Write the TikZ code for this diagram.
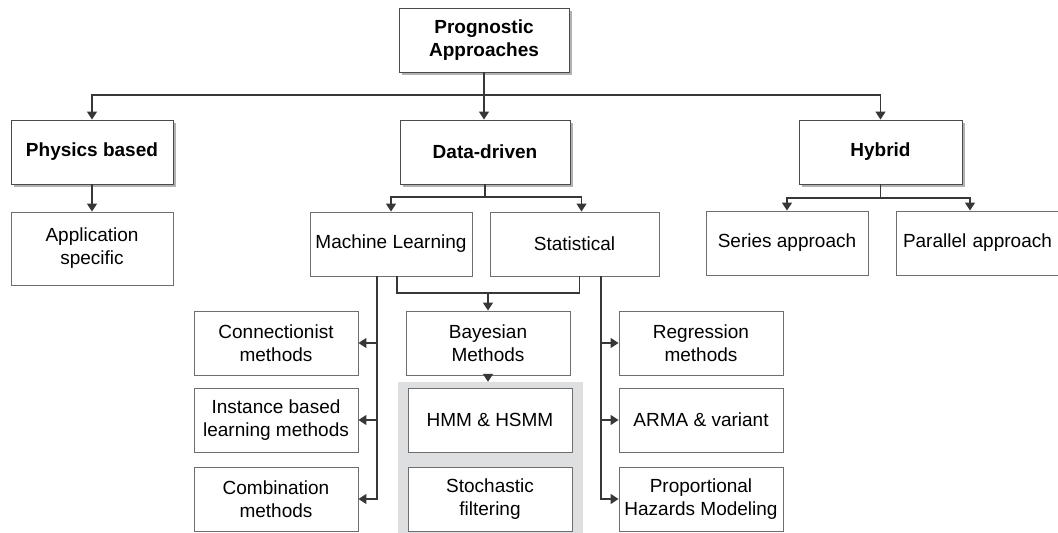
\documentclass[tikz,border=0pt]{standalone}
\usepackage{fontspec}
\setmainfont{Liberation Sans}
\usetikzlibrary{arrows.meta,shadows}
\definecolor{lineC}{RGB}{55,55,55}
\definecolor{boxC}{RGB}{110,110,110}
\definecolor{bgC}{RGB}{222,223,225}
\tikzset{
  box/.style={draw=boxC, line width=0.9pt, fill=white, align=center, inner sep=2pt,
    font=\fontsize{19}{23}\selectfont},
  mainbox/.style={box, draw=lineC!90, font=\fontsize{19}{23}\selectfont\bfseries,
    drop shadow={shadow xshift=2.5pt, shadow yshift=-2.5pt, fill=black, opacity=0.3}},
  conn/.style={draw=lineC, line width=1.4pt},
  arr/.style={conn, -{Triangle[width=10pt,length=8pt]}}
}
\begin{document}
\begin{tikzpicture}[x=1pt,y=-1pt]
\useasboundingbox (0,0) rectangle (1058,533);
\clip (0,0) rectangle (1058,533);
% grey background
\node[fill=bgC, minimum width=185pt, minimum height=151pt, inner sep=0pt] (grp) at (490.5,457.5) {};
% level 0
\node[mainbox, minimum width=170pt, minimum height=64pt] (top) at (484,40) {Prognostic\\Approaches};
% level 1
\node[mainbox, minimum width=162pt, minimum height=64pt] (phys) at (92,152) {Physics based};
\node[mainbox, minimum width=170pt, minimum height=64pt] (dd) at (485,152) {Data-driven};
\node[mainbox, minimum width=163pt, minimum height=64pt] (hyb) at (880.5,152) {Hybrid};
% level 2
\node[box, minimum width=162pt, minimum height=73pt] (app) at (92,248.5) {Application\\specific};
\node[box, minimum width=162pt, minimum height=64pt] (ml) at (391,244) {Machine Learning};
\node[box, minimum width=169pt, minimum height=64pt] (stat) at (574.5,244) {Statistical};
\node[box, minimum width=162pt, minimum height=64pt] (ser) at (787,243) {Series approach};
\node[box, minimum width=168pt, minimum height=64pt, text width=160pt, align=left] (par) at (980,243) {\hspace*{3pt}Parallel approach};
% level 3
\node[box, minimum width=164pt, minimum height=64pt] (bay) at (488,343) {Bayesian\\Methods};
\node[box, minimum width=164pt, minimum height=64pt] (hmm) at (490,420) {HMM \& HSMM};
\node[box, minimum width=164pt, minimum height=64pt] (sto) at (490,499) {Stochastic\\filtering};
\node[box, minimum width=164pt, minimum height=64pt] (cnm) at (276,343) {Connectionist\\methods};
\node[box, minimum width=164pt, minimum height=64pt] (ins) at (276,420) {Instance based\\learning methods};
\node[box, minimum width=164pt, minimum height=64pt] (cmb) at (276,499) {Combination\\methods};
\node[box, minimum width=164pt, minimum height=64pt] (reg) at (701,343) {Regression\\methods};
\node[box, minimum width=164pt, minimum height=64pt] (arma) at (701,420) {ARMA \& variant};
\node[box, minimum width=164pt, minimum height=64pt] (prop) at (701,499) {Proportional\\Hazards Modeling};
% junctions
\coordinate (tj) at (484,95);
\coordinate (dj) at (485,197);
\coordinate (hj) at (880.5,198);
\coordinate (bj) at (488,293);
% connectors
\draw[conn] (top.south) -- (tj);
\draw[arr] (tj) -| (phys.north);
\draw[arr] (tj) -| (hyb.north);
\draw[arr] (tj) -- (tj |- dd.north);
\draw[arr] (phys.south) -- (app.north);
\draw[conn] (dd.south) -- (dj);
\draw[arr] (dj) -| (ml.north);
\draw[arr] (dj) -| ([xshift=7pt]stat.north);
\draw[conn] (hyb.south) -- (hj);
\draw[arr] (hj) -| (ser.north);
\draw[arr] (hj) -| ([xshift=-10pt]par.north);
\draw[conn] ([xshift=6pt]ml.south) |- (bj) -| ([xshift=5pt]stat.south);
\draw[arr] (bj) -- (bay.north);
\draw[arr] (bay.south) -- (bay.south |- grp.north);
\draw[arr] ([xshift=-14pt]ml.south) |- (cnm.east);
\draw[arr] ([xshift=-14pt]ml.south) |- (ins.east);
\draw[arr] ([xshift=-14pt]ml.south) |- (cmb.east);
\draw[arr] ([xshift=26.5pt]stat.south) |- (reg.west);
\draw[arr] ([xshift=26.5pt]stat.south) |- (arma.west);
\draw[arr] ([xshift=26.5pt]stat.south) |- (prop.west);
\end{tikzpicture}
\end{document}
